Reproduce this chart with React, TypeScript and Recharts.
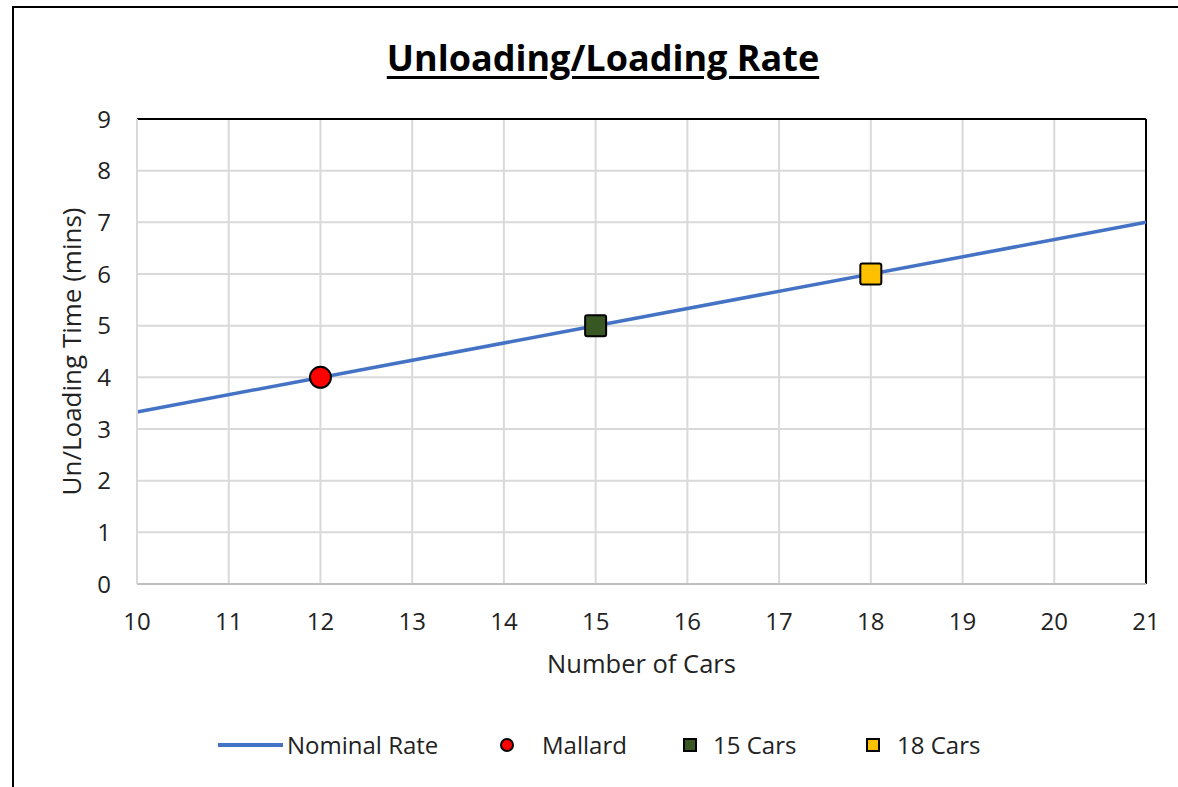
import React from 'react';
import { ComposedChart, Line, Scatter, XAxis, YAxis, CartesianGrid, ReferenceLine } from 'recharts';

// values
const nominalCars = [10, 21];
const nominalTime = [3.33, 7];

const pointNames = ['Mallard', '15 Cars', '18 Cars'];
const pointCars = [12, 15, 18];
const pointTimes = [4, 5, 6];
const pointColors = ['#ff0000', '#385723', '#ffc000'];
const pointShapes = ['circle', 'square', 'square'];

const xTicks = [10, 11, 12, 13, 14, 15, 16, 17, 18, 19, 20, 21];
const yTicks = [0, 1, 2, 3, 4, 5, 6, 7, 8, 9];

const FONT = '"Open Sans", sans-serif';
const LINE_COLOR = '#4472c4';
const GRID_COLOR = '#d9d9d9';

const lineData = nominalCars.map((x, i) => ({ x, y: nominalTime[i] }));

const makeShape = (kind: string, fill: string) => (props: any) => {
  const { cx, cy } = props;
  if (kind === 'circle') {
    return <circle cx={cx} cy={cy} r={10.5} fill={fill} stroke="#000" strokeWidth={2} />;
  }
  return <rect x={cx - 10.5} y={cy - 10.5} width={21} height={21} rx={2} fill={fill} stroke="#000" strokeWidth={2} />;
};

const LegendSwatch = ({ kind, fill }: { kind: string; fill: string }) => (
  <svg width={16} height={16} style={{ display: 'block' }}>
    {kind === 'circle' ? (
      <circle cx={8} cy={8} r={6} fill={fill} stroke="#000" strokeWidth={2} />
    ) : (
      <rect x={2} y={2} width={12} height={12} fill={fill} stroke="#000" strokeWidth={2} />
    )}
  </svg>
);

const legendSpots = [499, 682, 865];
const legendTextX = [542, 713, 897];

export default function App() {
  return (
    <div style={{ position: 'absolute', left: 0, top: 0, width: 1178, height: 787, background: '#fff', fontFamily: FONT }}>
      {/* outer frame */}
      <div style={{ position: 'absolute', left: 12, top: 6, width: 1166, height: 2, background: '#000' }} />
      <div style={{ position: 'absolute', left: 12, top: 6, width: 2, height: 781, background: '#000' }} />

      <div
        style={{
          position: 'absolute',
          left: 0,
          top: 33,
          width: 1206,
          textAlign: 'center',
          fontSize: 36,
          fontWeight: 700,
          textDecoration: 'underline',
          textUnderlineOffset: 5,
          color: '#000',
        }}
      >
        Unloading/Loading Rate
      </div>

      <ComposedChart width={1178} height={787} margin={{ top: 119, right: 32, bottom: 103, left: 37 }}>
        <CartesianGrid stroke={GRID_COLOR} strokeWidth={2} horizontalValues={yTicks} verticalValues={xTicks} />
        <XAxis
          type="number"
          dataKey="x"
          domain={[10, 21]}
          ticks={xTicks}
          height={100}
          tickLine={false}
          tickSize={0}
          tickMargin={29}
          axisLine={{ stroke: '#bfbfbf', strokeWidth: 2 }}
          tick={{ fill: '#222', fontSize: 24, fontFamily: FONT }}
          allowDuplicatedCategory={false}
          label={{ value: 'Number of Cars', position: 'insideBottom', offset: 11, fill: '#222', fontSize: 25.5, fontFamily: FONT }}
        />
        <YAxis
          type="number"
          dataKey="y"
          domain={[0, 9]}
          ticks={yTicks}
          width={100}
          tickLine={false}
          tickSize={0}
          tickMargin={26}
          axisLine={{ stroke: GRID_COLOR, strokeWidth: 2 }}
          tick={{ fill: '#222', fontSize: 24, fontFamily: FONT }}
          label={{
            value: 'Un/Loading Time (mins)',
            angle: -90,
            position: 'insideLeft',
            offset: 35,
            fill: '#222',
            fontSize: 26,
            fontFamily: FONT,
            style: { textAnchor: 'middle' },
          }}
        />
        <ReferenceLine y={9} stroke="#000" strokeWidth={2} ifOverflow="extendDomain" />
        <ReferenceLine x={21} stroke="#000" strokeWidth={2} ifOverflow="extendDomain" />
        <Line
          data={lineData}
          dataKey="y"
          name="Nominal Rate"
          type="linear"
          stroke={LINE_COLOR}
          strokeWidth={3.5}
          dot={false}
          activeDot={false}
          isAnimationActive={false}
        />
        {pointNames.map((name, i) => (
          <Scatter
            key={name}
            name={name}
            data={[{ x: pointCars[i], y: pointTimes[i] }]}
            dataKey="y"
            shape={makeShape(pointShapes[i], pointColors[i])}
            isAnimationActive={false}
          />
        ))}
      </ComposedChart>

      {/* legend */}
      <div style={{ position: 'absolute', left: 218, top: 743, width: 65, height: 4, background: LINE_COLOR }} />
      <div style={{ position: 'absolute', left: 287, top: 730, fontSize: 24, color: '#222', lineHeight: '30px' }}>Nominal Rate</div>
      {pointNames.map((name, i) => (
        <React.Fragment key={name}>
          <div style={{ position: 'absolute', left: legendSpots[i], top: 737 }}>
            <LegendSwatch kind={pointShapes[i]} fill={pointColors[i]} />
          </div>
          <div style={{ position: 'absolute', left: legendTextX[i], top: 730, fontSize: 24, color: '#222', lineHeight: '30px' }}>{name}</div>
        </React.Fragment>
      ))}
    </div>
  );
}
